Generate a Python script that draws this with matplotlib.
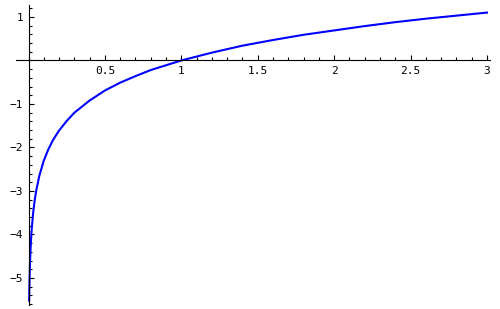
import matplotlib
matplotlib.use("Agg")
import matplotlib.pyplot as plt
from matplotlib.ticker import MultipleLocator, FixedLocator

# curve values
x_vals = [0.004, 0.006, 0.01, 0.015, 0.02, 0.03, 0.04, 0.05, 0.07, 0.1, 0.13, 0.16,
          0.2, 0.25, 0.3, 0.4, 0.5, 0.6, 0.7, 0.8, 0.9, 1.0, 1.2, 1.4, 1.6, 1.8,
          2.0, 2.2, 2.4, 2.6, 2.8, 3.0]
y_vals = [-5.52, -5.12, -4.61, -4.2, -3.91, -3.51, -3.22, -3.0, -2.66, -2.3, -2.04, -1.83,
          -1.61, -1.39, -1.2, -0.92, -0.69, -0.51, -0.36, -0.22, -0.11, 0.0, 0.18, 0.34, 0.47, 0.59,
          0.69, 0.79, 0.88, 0.96, 1.03, 1.1]

x_labels = [0.5, 1, 1.5, 2, 2.5, 3]
y_labels = [-5, -4, -3, -2, -1, 1]

fig = plt.figure(figsize=(5, 3.09), dpi=100)
ax = fig.add_axes([0.032, 0.013, 0.948, 0.971])

ax.plot(x_vals, y_vals, color=(0, 0, 1), linewidth=1.5)

ax.set_xlim(-0.082, 3.02)
ax.set_ylim(-5.62, 1.276)

for side in ["top", "right"]:
    ax.spines[side].set_visible(False)
ax.spines["left"].set_position(("data", 0))
ax.spines["bottom"].set_position(("data", 0))
ax.spines["left"].set_linewidth(0.8)
ax.spines["bottom"].set_linewidth(0.8)

ax.xaxis.set_major_locator(FixedLocator(x_labels))
ax.yaxis.set_major_locator(FixedLocator(y_labels))
ax.xaxis.set_minor_locator(MultipleLocator(0.1))
ax.yaxis.set_minor_locator(MultipleLocator(0.2))
ax.set_xticklabels([f"{v:g}" for v in x_labels])
ax.set_yticklabels([f"{v:g}".replace("-", "\u2212") for v in y_labels])

ax.tick_params(which="major", direction="in", length=3.5, width=0.8,
               labelsize=8, pad=4)
ax.tick_params(which="minor", direction="in", length=2, width=0.8)
for lbl in ax.get_xticklabels() + ax.get_yticklabels():
    lbl.set_family("DejaVu Sans Mono")

fig.savefig("out.png", dpi=100)
